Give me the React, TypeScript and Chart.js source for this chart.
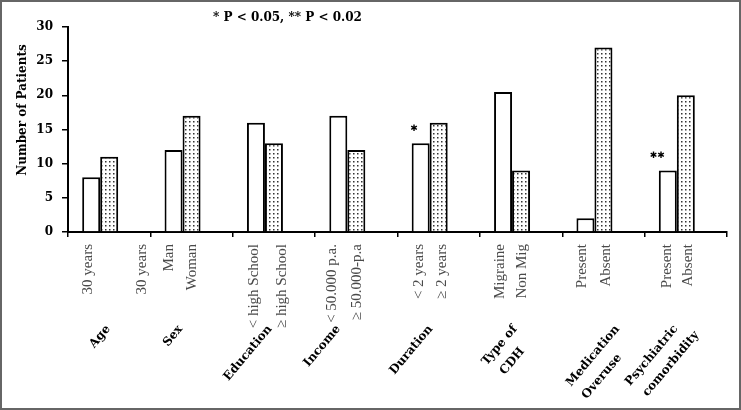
import React, { useEffect, useRef } from 'react';
import { Chart, registerables } from 'chart.js';

Chart.register(...registerables);

// ---- data ----
const groupNames: string[][] = [
  ['Age'],
  ['Sex'],
  ['Education'],
  ['Income'],
  ['Duration'],
  ['Type of', 'CDH'],
  ['Medication', 'Overuse'],
  ['Psychiatric', 'comorbidity'],
];
const firstLabels = ['30 years', 'Man', '< high School', '< 50.000 p.a.', '< 2 years', 'Migraine', 'Present', 'Present'];
const secondLabels = ['30 years', 'Woman', '≥ high School', '≥ 50.000-p.a', '≥ 2 years', 'Non Mig', 'Absent', 'Absent'];
const firstValues = [8, 12, 16, 17, 13, 20.5, 2, 9];
const secondValues = [11, 17, 13, 12, 16, 9, 27, 20];
const significance = ['', '', '', '', '✱', '', '', '✱✱'];
const noteText = '* P < 0.05, ** P < 0.02';
const yTitle = 'Number of Patients';
const yMin = 0;
const yMax = 30;
const yStep = 5;

// ---- layout tweaks (not data) ----
const firstLabelNudge = [-3, -4, -2, -6, -2, -3, -3, -1];
const secondLabelNudge = [33, 0, 8, 1, 3, 1, 3, 2];
const groupLabelNudge = [-1, -11, -4, -18, -8, -6, 14, -10];
const secondLineShift = [0, 0, 0, 0, 0, -4, -10, 6];

const SERIF_BOLD = 'bold 12px "DejaVu Serif"';

const overlay = {
  id: 'overlay',
  beforeDraw(chart: any) {
    const ctx = chart.ctx;
    ctx.save();
    ctx.fillStyle = '#fff';
    ctx.fillRect(0, 0, chart.width, chart.height);
    ctx.restore();
  },
  afterDraw(chart: any) {
    const ctx: CanvasRenderingContext2D = chart.ctx;
    const xs = chart.scales.x;
    const m0 = chart.getDatasetMeta(0);
    const m1 = chart.getDatasetMeta(1);
    const area = chart.chartArea;

    ctx.save();
    // note text
    ctx.fillStyle = '#000';
    ctx.font = SERIF_BOLD;
    ctx.textAlign = 'left';
    ctx.textBaseline = 'middle';
    ctx.fillText(noteText, area.left + 145, 18);

    // y title
    ctx.save();
    ctx.translate(22.5, 110);
    ctx.rotate(-Math.PI / 2);
    ctx.textAlign = 'center';
    ctx.textBaseline = 'middle';
    ctx.fillText(yTitle, 0, 0);
    ctx.restore();

    // sub labels
    ctx.font = '15px "Liberation Serif"';
    ctx.fillStyle = '#4a4a4a';
    const subTop = area.bottom + 12;
    const drawV = (text: string, x: number) => {
      ctx.save();
      ctx.translate(x, subTop);
      ctx.rotate(-Math.PI / 2);
      ctx.textAlign = 'right';
      ctx.textBaseline = 'middle';
      ctx.fillText(text, 0, 0);
      ctx.restore();
    };
    m0.data.forEach((bar: any, i: number) => drawV(firstLabels[i], bar.x + firstLabelNudge[i]));
    m1.data.forEach((bar: any, i: number) => drawV(secondLabels[i], bar.x + secondLabelNudge[i]));

    // group labels
    ctx.font = SERIF_BOLD;
    ctx.fillStyle = '#000';
    const ang = (-50 * Math.PI) / 180;
    const lh = 20;
    groupNames.forEach((lines, i) => {
      const cx = xs.getPixelForValue(i) + groupLabelNudge[i];
      const w1 = ctx.measureText(lines[0]).width;
      ctx.save();
      ctx.translate(cx, area.bottom + 95);
      ctx.rotate(ang);
      ctx.textAlign = 'center';
      ctx.textBaseline = 'middle';
      lines.forEach((ln, j) => ctx.fillText(ln, -w1 / 2 + (j > 0 ? secondLineShift[i] : 0), j * lh));
      ctx.restore();
    });

    // significance marks
    ctx.font = '9px "DejaVu Sans"';
    ctx.textAlign = 'right';
    ctx.textBaseline = 'middle';
    m0.data.forEach((bar: any, i: number) => {
      if (significance[i]) ctx.fillText(significance[i], bar.x - 3, bar.y - 14.5);
    });

    // frame
    ctx.strokeStyle = '#666';
    ctx.lineWidth = 2;
    ctx.strokeRect(1, 1, chart.width - 2, chart.height - 2);
    ctx.restore();
  },
};

export default function App() {
  const ref = useRef<HTMLCanvasElement>(null);
  useEffect(() => {
    const canvas = ref.current!;
    const tile = document.createElement('canvas');
    tile.width = 4;
    tile.height = 4;
    const tctx = tile.getContext('2d')!;
    tctx.fillStyle = '#fff';
    tctx.fillRect(0, 0, 4, 4);
    tctx.fillStyle = '#333';
    tctx.fillRect(1, 1, 1.5, 1.5);
    const pattern = tctx.createPattern(tile, 'repeat');

    const chart = new Chart(canvas, {
      type: 'bar',
      data: {
        labels: groupNames.map((g) => g.join(' ')),
        datasets: [
          { data: firstValues, backgroundColor: '#fff', borderColor: '#000', borderWidth: 2 },
          { data: secondValues, backgroundColor: pattern as any, borderColor: '#000', borderWidth: 2 },
          { data: firstValues.map(() => null), backgroundColor: 'rgba(0,0,0,0)', borderWidth: 0 },
        ],
      },
      options: {
        responsive: false,
        animation: false,
        devicePixelRatio: 1,
        layout: { padding: { top: 27, right: 14, left: 0, bottom: 0 } },
        plugins: { legend: { display: false }, tooltip: { enabled: false }, title: { display: false } },
        datasets: { bar: { categoryPercentage: 0.6556, barPercentage: 1 } },
        scales: {
          x: {
            grid: { display: true, drawOnChartArea: false, drawTicks: true, tickLength: 5, color: '#000', lineWidth: 1.5, offset: true },
            border: { display: true, color: '#000', width: 2 },
            ticks: { display: false },
            afterFit: (s: any) => { s.height = 178; },
          },
          y: {
            min: yMin,
            max: yMax,
            ticks: { stepSize: yStep, padding: 9, color: '#000', font: { family: 'DejaVu Serif', weight: 'bold', size: 12 } },
            grid: { drawOnChartArea: false, drawTicks: true, tickLength: 6, color: '#000', lineWidth: 1.5 },
            border: { display: true, color: '#000', width: 2 },
            afterFit: (s: any) => { s.width = 68; },
          },
        },
      } as any,
      plugins: [overlay],
    });
    return () => chart.destroy();
  }, []);
  return (
    <div style={{ position: 'fixed', left: 0, top: 0, width: 741, height: 410, background: '#fff' }}>
      <canvas ref={ref} width={741} height={410} style={{ display: 'block' }} />
    </div>
  );
}
